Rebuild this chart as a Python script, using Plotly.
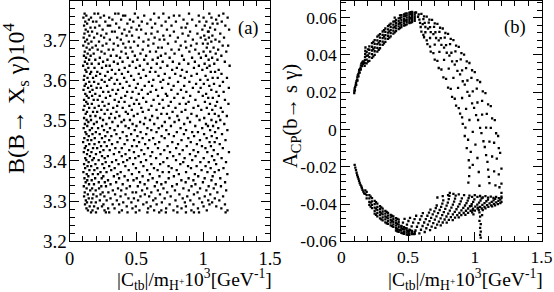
import plotly.graph_objects as go

# ---------------- panel (a): B(B->Xs gamma) vs |Ctb|/mH+ ----------------
# rows of points: (y value, [x values])
a_rows = [
    (3.767, [0.113, 0.187, 0.214, 0.342, 0.366, 0.489, 0.633, 0.702, 0.894, 1.046, 1.151]),
    (3.762, [0.126, 0.258, 0.401, 0.417, 0.559, 0.781, 0.822, 0.967, 1.118]),
    (3.757, [0.104, 0.161, 0.232, 0.297, 0.512, 0.668, 0.744, 1.003, 1.062, 1.183]),
    (3.752, [0.145, 0.321, 0.386, 0.452, 0.607, 0.853, 0.918, 1.097]),
    (3.747, [0.118, 0.176, 0.201, 0.268, 0.477, 0.541, 0.719, 0.796, 0.972, 1.024, 1.139]),
    (3.742, [0.132, 0.349, 0.433, 0.582, 0.641, 0.881, 1.071, 1.107]),
    (3.737, [0.109, 0.224, 0.287, 0.304, 0.521, 0.689, 0.763, 0.947, 1.012, 1.166]),
    (3.732, [0.157, 0.191, 0.372, 0.463, 0.617, 0.838, 0.869, 1.052]),
    (3.727, [0.121, 0.248, 0.411, 0.502, 0.536, 0.729, 0.994, 1.089, 1.194]),
    (3.722, [0.138, 0.169, 0.318, 0.339, 0.448, 0.659, 0.781, 0.902, 1.036, 1.041]),
    (3.717, [0.112, 0.207, 0.276, 0.393, 0.571, 0.613, 0.846, 0.957, 1.128]),
    (3.712, [0.149, 0.236, 0.427, 0.468, 0.702, 0.752, 0.889, 1.008, 1.069]),
    (3.707, [0.106, 0.184, 0.259, 0.357, 0.519, 0.637, 0.811, 0.982, 1.043, 1.156]),
    (3.702, [0.131, 0.302, 0.384, 0.591, 0.674, 0.709, 0.923, 1.017, 1.092]),
    (3.697, [0.117, 0.164, 0.221, 0.444, 0.483, 0.553, 0.794, 0.867, 1.061, 1.121]),
    (3.692, [0.142, 0.276, 0.331, 0.402, 0.628, 0.737, 0.951, 0.998, 1.034]),
    (3.687, [0.103, 0.197, 0.248, 0.363, 0.512, 0.589, 0.832, 0.909, 1.146, 1.187]),
    (3.682, [0.128, 0.171, 0.419, 0.457, 0.664, 0.691, 0.873, 1.027, 1.078]),
    (3.677, [0.151, 0.211, 0.293, 0.327, 0.548, 0.763, 0.819, 0.941, 1.112]),
    (3.672, [0.114, 0.239, 0.388, 0.471, 0.602, 0.647, 0.897, 1.003, 1.053, 1.173]),
    (3.667, [0.136, 0.181, 0.263, 0.422, 0.531, 0.718, 0.786, 0.968, 1.094]),
    (3.662, [0.108, 0.158, 0.309, 0.352, 0.489, 0.573, 0.684, 0.842, 1.021, 1.136]),
    (3.657, [0.124, 0.227, 0.378, 0.436, 0.661, 0.749, 0.917, 0.983, 1.067]),
    (3.652, [0.147, 0.193, 0.284, 0.507, 0.559, 0.622, 0.856, 1.041, 1.107]),
    (3.647, [0.115, 0.251, 0.332, 0.397, 0.473, 0.697, 0.773, 0.938, 1.162]),
    (3.642, [0.133, 0.166, 0.219, 0.361, 0.584, 0.653, 0.821, 0.889, 1.011, 1.083]),
    (3.637, [0.102, 0.274, 0.301, 0.449, 0.526, 0.732, 0.968, 1.048, 1.198]),
    (3.632, [0.141, 0.187, 0.243, 0.413, 0.497, 0.611, 0.681, 0.803, 0.931, 1.029]),
    (3.627, [0.119, 0.317, 0.371, 0.553, 0.768, 0.842, 0.994, 1.116]),
    (3.622, [0.127, 0.162, 0.208, 0.286, 0.438, 0.602, 0.643, 0.877, 1.057, 1.089]),
    (3.617, [0.154, 0.229, 0.343, 0.392, 0.518, 0.713, 0.791, 0.953, 1.137]),
    (3.612, [0.111, 0.199, 0.267, 0.461, 0.572, 0.666, 0.831, 0.912, 1.018]),
    (3.607, [0.135, 0.176, 0.313, 0.409, 0.533, 0.749, 0.862, 1.071, 1.109, 1.178]),
    (3.602, [0.107, 0.241, 0.298, 0.356, 0.482, 0.627, 0.701, 0.978, 1.034]),
    (3.597, [0.148, 0.184, 0.263, 0.427, 0.594, 0.681, 0.812, 0.897, 1.148]),
    (3.592, [0.122, 0.216, 0.337, 0.378, 0.511, 0.739, 0.947, 1.005, 1.081]),
    (3.587, [0.113, 0.162, 0.281, 0.449, 0.563, 0.618, 0.779, 0.858, 1.046, 1.124]),
    (3.582, [0.139, 0.203, 0.234, 0.399, 0.497, 0.693, 0.923, 0.981, 1.192]),
    (3.577, [0.105, 0.172, 0.322, 0.363, 0.541, 0.648, 0.762, 0.834, 1.061]),
    (3.572, [0.152, 0.252, 0.291, 0.431, 0.472, 0.607, 0.874, 0.966, 1.099, 1.153]),
    (3.567, [0.118, 0.193, 0.349, 0.518, 0.586, 0.721, 0.809, 1.022]),
    (3.562, [0.129, 0.169, 0.226, 0.304, 0.417, 0.662, 0.731, 0.903, 0.997, 1.117]),
    (3.557, [0.143, 0.272, 0.387, 0.463, 0.551, 0.784, 0.852, 1.038, 1.072]),
    (3.552, [0.109, 0.181, 0.211, 0.338, 0.502, 0.629, 0.697, 0.942, 1.163]),
    (3.547, [0.125, 0.247, 0.369, 0.412, 0.574, 0.758, 0.891, 1.013, 1.104]),
    (3.542, [0.136, 0.167, 0.293, 0.483, 0.521, 0.672, 0.824, 0.871, 1.051, 1.189]),
    (3.537, [0.112, 0.219, 0.262, 0.357, 0.448, 0.613, 0.741, 0.963, 1.092]),
    (3.532, [0.147, 0.188, 0.327, 0.398, 0.537, 0.702, 0.793, 0.928, 1.027, 1.132]),
    (3.527, [0.104, 0.238, 0.284, 0.466, 0.592, 0.651, 0.867, 0.986, 1.068]),
    (3.522, [0.131, 0.176, 0.207, 0.352, 0.421, 0.548, 0.771, 0.839, 1.146]),
    (3.517, [0.121, 0.263, 0.311, 0.437, 0.509, 0.687, 0.729, 0.912, 1.043, 1.087]),
    (3.512, [0.156, 0.194, 0.373, 0.481, 0.618, 0.807, 0.952, 1.116, 1.177]),
    (3.507, [0.109, 0.229, 0.298, 0.341, 0.567, 0.659, 0.748, 0.883, 1.008]),
    (3.502, [0.128, 0.161, 0.251, 0.408, 0.452, 0.602, 0.819, 0.973, 1.062, 1.128]),
    (3.497, [0.141, 0.204, 0.321, 0.389, 0.528, 0.713, 0.786, 0.902, 1.097]),
    (3.492, [0.115, 0.183, 0.276, 0.472, 0.557, 0.634, 0.858, 1.021, 1.158]),
    (3.487, [0.133, 0.244, 0.362, 0.419, 0.501, 0.692, 0.759, 0.941, 1.036, 1.074]),
    (3.482, [0.106, 0.168, 0.214, 0.303, 0.443, 0.583, 0.667, 0.831, 0.993, 1.113]),
    (3.477, [0.152, 0.258, 0.337, 0.488, 0.612, 0.724, 0.872, 1.052, 1.181]),
    (3.472, [0.119, 0.197, 0.284, 0.398, 0.532, 0.651, 0.803, 0.918, 0.961, 1.089]),
    (3.467, [0.127, 0.172, 0.226, 0.351, 0.461, 0.574, 0.743, 0.856, 1.007, 1.141]),
    (3.462, [0.144, 0.268, 0.313, 0.427, 0.508, 0.689, 0.781, 0.932, 1.064]),
    (3.457, [0.111, 0.189, 0.243, 0.378, 0.547, 0.626, 0.712, 0.889, 1.026, 1.102]),
    (3.452, [0.136, 0.163, 0.297, 0.433, 0.483, 0.597, 0.838, 0.976, 1.167]),
    (3.447, [0.102, 0.221, 0.262, 0.359, 0.521, 0.671, 0.769, 0.907, 1.048, 1.086]),
    (3.442, [0.148, 0.187, 0.318, 0.412, 0.566, 0.641, 0.812, 0.953, 1.124]),
    (3.437, [0.123, 0.236, 0.279, 0.468, 0.503, 0.734, 0.877, 0.991, 1.058]),
    (3.432, [0.114, 0.176, 0.207, 0.343, 0.391, 0.587, 0.662, 0.798, 1.017, 1.147]),
    (3.427, [0.139, 0.254, 0.301, 0.447, 0.538, 0.709, 0.847, 0.928, 1.079]),
    (3.422, [0.107, 0.164, 0.229, 0.372, 0.482, 0.619, 0.752, 0.962, 1.031, 1.193]),
    (3.417, [0.131, 0.198, 0.332, 0.419, 0.559, 0.681, 0.823, 0.901, 1.109]),
    (3.412, [0.153, 0.243, 0.287, 0.391, 0.517, 0.606, 0.776, 0.943, 1.066]),
    (3.407, [0.118, 0.182, 0.263, 0.451, 0.492, 0.648, 0.731, 0.861, 1.004, 1.138]),
    (3.402, [0.126, 0.171, 0.218, 0.349, 0.431, 0.573, 0.797, 0.918, 1.083]),
    (3.397, [0.143, 0.271, 0.318, 0.402, 0.534, 0.702, 0.851, 0.979, 1.042, 1.171]),
    (3.392, [0.109, 0.194, 0.246, 0.367, 0.476, 0.612, 0.678, 0.829, 1.097]),
    (3.387, [0.135, 0.162, 0.297, 0.418, 0.553, 0.741, 0.887, 0.951, 1.018]),
    (3.382, [0.117, 0.208, 0.259, 0.338, 0.497, 0.632, 0.764, 0.909, 1.056, 1.152]),
    (3.377, [0.149, 0.186, 0.312, 0.443, 0.581, 0.659, 0.802, 0.988, 1.117]),
    (3.372, [0.104, 0.232, 0.277, 0.383, 0.521, 0.697, 0.744, 0.872, 1.032, 1.086]),
    (3.367, [0.129, 0.174, 0.213, 0.359, 0.467, 0.601, 0.818, 0.938, 1.181]),
    (3.362, [0.141, 0.253, 0.332, 0.412, 0.547, 0.673, 0.781, 0.963, 1.071]),
    (3.357, [0.112, 0.192, 0.241, 0.371, 0.503, 0.622, 0.742, 0.891, 1.011, 1.128]),
    (3.352, [0.133, 0.166, 0.288, 0.436, 0.479, 0.589, 0.837, 0.927, 1.062]),
    (3.347, [0.121, 0.219, 0.264, 0.349, 0.528, 0.654, 0.719, 0.869, 0.998, 1.164]),
    (3.342, [0.146, 0.183, 0.307, 0.398, 0.562, 0.687, 0.803, 0.942, 1.094]),
    (3.337, [0.107, 0.238, 0.273, 0.452, 0.511, 0.638, 0.768, 0.913, 1.041, 1.133]),
    (3.332, [0.128, 0.169, 0.221, 0.363, 0.427, 0.581, 0.703, 0.852, 0.977, 1.079]),
    (3.327, [0.155, 0.196, 0.324, 0.387, 0.543, 0.661, 0.789, 0.893, 1.024, 1.172]),
    (3.322, [0.114, 0.248, 0.291, 0.472, 0.498, 0.612, 0.731, 0.958, 1.106]),
    (3.317, [0.137, 0.178, 0.232, 0.341, 0.419, 0.564, 0.677, 0.822, 0.931, 1.053]),
    (3.312, [0.109, 0.203, 0.261, 0.382, 0.531, 0.596, 0.757, 0.881, 1.012, 1.149]),
    (3.307, [0.144, 0.171, 0.307, 0.441, 0.482, 0.643, 0.712, 0.847, 0.972, 1.087]),
    (3.302, [0.122, 0.227, 0.278, 0.354, 0.513, 0.626, 0.793, 0.904, 1.038, 1.121]),
    (3.297, [0.131, 0.163, 0.197, 0.402, 0.463, 0.577, 0.691, 0.863, 0.992, 1.067]),
    (3.292, [0.116, 0.254, 0.323, 0.371, 0.552, 0.652, 0.749, 0.927, 1.047, 1.163]),
    (3.287, [0.151, 0.184, 0.243, 0.428, 0.496, 0.607, 0.807, 0.871, 1.003, 1.098]),
    (3.282, [0.127, 0.212, 0.289, 0.337, 0.471, 0.588, 0.723, 0.838, 0.961, 1.136]),
    (3.277, [0.138, 0.172, 0.262, 0.392, 0.523, 0.633, 0.687, 0.778, 0.912, 1.027, 1.182]),
    (3.272, [0.161, 0.198, 0.272, 0.297, 0.372, 0.434, 0.496, 0.583, 0.671, 0.721, 0.807, 0.871, 0.931, 0.969, 1.168]),
]

# ---------------- panel (b): A_CP(b->s gamma) vs |Ctb|/mH+ ----------------
b_up_start = [
    (0.097, 0.0195), (0.098, 0.0207), (0.100, 0.0220), (0.104, 0.0229), (0.108, 0.0238),
    (0.110, 0.0250), (0.114, 0.0260), (0.118, 0.0268), (0.120, 0.0280), (0.123, 0.0291),
    (0.128, 0.0297), (0.132, 0.0306), (0.134, 0.0318), (0.139, 0.0324), (0.144, 0.0331),
    (0.147, 0.0343), (0.150, 0.0353), (0.156, 0.0359), (0.162, 0.0366), (0.102, 0.0210),
    (0.112, 0.0240), (0.121, 0.0263), (0.129, 0.0285), (0.138, 0.0305), (0.146, 0.0322),
    (0.155, 0.0340), (0.163, 0.0352), (0.168, 0.0362),
    (0.175, 0.0342), (0.176, 0.0358), (0.177, 0.0374), (0.178, 0.0390), (0.179, 0.0406),
    (0.180, 0.0422), (0.181, 0.0440),
]

b_up_band = [
    (0.19, [0.0355, 0.0375, 0.0395, 0.0415]),
    (0.21, [0.0368, 0.0388, 0.0408, 0.0428, 0.0446]),
    (0.23, [0.0384, 0.0404, 0.0424, 0.0444, 0.0464]),
    (0.25, [0.0400, 0.0420, 0.0440, 0.0460, 0.0480]),
    (0.27, [0.0418, 0.0438, 0.0458, 0.0478, 0.0498]),
    (0.29, [0.0436, 0.0455, 0.0474, 0.0493, 0.0512]),
    (0.31, [0.0454, 0.0472, 0.0490, 0.0508, 0.0526]),
    (0.33, [0.0470, 0.0488, 0.0506, 0.0524, 0.0542]),
    (0.35, [0.0486, 0.0503, 0.0520, 0.0537, 0.0555]),
    (0.37, [0.0500, 0.0517, 0.0534, 0.0551, 0.0568]),
    (0.39, [0.0515, 0.0531, 0.0547, 0.0563, 0.0579]),
    (0.41, [0.0528, 0.0543, 0.0558, 0.0573, 0.0588]),
    (0.43, [0.0539, 0.0553, 0.0567, 0.0581, 0.0596]),
    (0.45, [0.0549, 0.0562, 0.0575, 0.0588, 0.0602, 0.0614]),
    (0.47, [0.0557, 0.0569, 0.0581, 0.0594, 0.0607, 0.0618]),
    (0.49, [0.0564, 0.0576, 0.0588, 0.0600, 0.0612, 0.0623]),
    (0.51, [0.0571, 0.0582, 0.0594, 0.0605, 0.0617, 0.0627]),
    (0.53, [0.0577, 0.0588, 0.0599, 0.0610, 0.0621, 0.0631]),
    (0.55, [0.0583, 0.0594, 0.0605, 0.0616, 0.0627]),
    (0.20, [0.0365, 0.0398, 0.0430]),
    (0.24, [0.0392, 0.0432, 0.0470]),
    (0.28, [0.0428, 0.0466, 0.0505]),
    (0.32, [0.0462, 0.0498, 0.0533]),
    (0.36, [0.0493, 0.0527, 0.0561]),
    (0.40, [0.0521, 0.0550, 0.0580, 0.0600]),
    (0.44, [0.0544, 0.0571, 0.0598, 0.0612]),
    (0.48, [0.0560, 0.0585, 0.0610, 0.0622]),
    (0.52, [0.0574, 0.0597, 0.0620, 0.0630]),
]

b_up_fan = [
    [(0.56, 0.0628), (0.60, 0.0620), (0.64, 0.0606), (0.68, 0.0588), (0.72, 0.0567), (0.76, 0.0542),
     (0.80, 0.0513), (0.84, 0.0480), (0.88, 0.0443), (0.92, 0.0402), (0.96, 0.0357), (1.00, 0.0308),
     (1.04, 0.0255), (1.08, 0.0195), (1.12, 0.0125), (1.15, 0.0050), (1.175, -0.0035), (1.19, -0.0125),
     (1.20, -0.0210), (1.20, -0.0290), (1.20, -0.0340)],
    [(0.58, 0.0618), (0.62, 0.0607), (0.66, 0.0590), (0.70, 0.0570), (0.74, 0.0546), (0.78, 0.0518),
     (0.82, 0.0486), (0.86, 0.0450), (0.90, 0.0410), (0.94, 0.0366), (0.98, 0.0318), (1.02, 0.0265),
     (1.06, 0.0205), (1.10, 0.0135), (1.13, 0.0060), (1.16, -0.0020), (1.18, -0.0100)],
    [(0.575, 0.0605), (0.615, 0.0592), (0.655, 0.0574), (0.695, 0.0551), (0.735, 0.0524), (0.775, 0.0493),
     (0.815, 0.0458), (0.855, 0.0419), (0.895, 0.0376), (0.935, 0.0329), (0.975, 0.0277), (1.015, 0.0219),
     (1.055, 0.0154), (1.09, 0.0084), (1.12, 0.0009), (1.145, -0.0071), (1.165, -0.0156), (1.18, -0.0241),
     (1.185, -0.0310)],
    [(0.585, 0.0590), (0.625, 0.0572), (0.665, 0.0549), (0.705, 0.0522), (0.745, 0.0490), (0.785, 0.0453),
     (0.825, 0.0412), (0.865, 0.0367), (0.905, 0.0317), (0.945, 0.0263), (0.985, 0.0205), (1.02, 0.0145),
     (1.055, 0.0080), (1.085, 0.0010), (1.11, -0.0065), (1.13, -0.0145), (1.145, -0.0225), (1.155, -0.0300)],
    [(0.61, 0.0566), (0.65, 0.0541), (0.69, 0.0512), (0.73, 0.0478), (0.77, 0.0439), (0.81, 0.0396),
     (0.85, 0.0348), (0.89, 0.0296), (0.925, 0.0241), (0.96, 0.0181), (0.995, 0.0116), (1.025, 0.0051),
     (1.05, -0.0019), (1.075, -0.0094), (1.095, -0.0174), (1.105, -0.0254)],
    [(0.59, 0.0572), (0.63, 0.0550), (0.67, 0.0523), (0.71, 0.0491), (0.75, 0.0454), (0.79, 0.0412),
     (0.83, 0.0366), (0.87, 0.0315), (0.91, 0.0259), (0.945, 0.0202), (0.98, 0.0140), (1.01, 0.0077),
     (1.04, 0.0009), (1.065, -0.0063), (1.085, -0.0138), (1.10, -0.0215), (1.11, -0.0288)],
    [(0.595, 0.0550), (0.63, 0.0522), (0.665, 0.0491), (0.70, 0.0456), (0.735, 0.0417), (0.77, 0.0374),
     (0.805, 0.0327), (0.84, 0.0277), (0.875, 0.0223), (0.905, 0.0169), (0.935, 0.0111), (0.96, 0.0051),
     (0.985, -0.0013), (1.005, -0.0081), (1.02, -0.0153), (1.03, -0.0228), (1.035, -0.0302)],
    [(0.615, 0.0508), (0.64, 0.0478), (0.665, 0.0445), (0.69, 0.0410), (0.72, 0.0368), (0.75, 0.0322),
     (0.785, 0.0272), (0.82, 0.0218), (0.85, 0.0165), (0.88, 0.0115), (0.905, 0.0065), (0.93, 0.0010),
     (0.95, -0.0055), (0.97, -0.0120), (0.985, -0.0190)],
    [(0.60, 0.0525), (0.62, 0.0495), (0.645, 0.0458), (0.67, 0.0418), (0.70, 0.0375), (0.73, 0.0330),
     (0.765, 0.0280), (0.80, 0.0225), (0.83, 0.0175), (0.86, 0.0128), (0.89, 0.0085), (0.91, 0.0030),
     (0.925, -0.0035), (0.94, -0.0100), (0.955, -0.0165), (0.962, -0.0205), (0.958, -0.0250), (0.952, -0.0285)],
]

b_lo_start = [
    (0.100, -0.0190), (0.105, -0.0205), (0.110, -0.0218), (0.115, -0.0232), (0.119, -0.0245),
    (0.124, -0.0255), (0.129, -0.0265), (0.133, -0.0276), (0.138, -0.0287), (0.144, -0.0297),
    (0.150, -0.0305), (0.154, -0.0314), (0.159, -0.0324), (0.165, -0.0333), (0.171, -0.0343),
]

b_lo_band = [
    (0.19, [-0.0335, -0.0352, -0.0370]),
    (0.21, [-0.0352, -0.0370, -0.0388, -0.0404]),
    (0.23, [-0.0368, -0.0386, -0.0404, -0.0422]),
    (0.25, [-0.0383, -0.0401, -0.0419, -0.0437, -0.0452]),
    (0.27, [-0.0398, -0.0415, -0.0432, -0.0449, -0.0466]),
    (0.29, [-0.0412, -0.0428, -0.0444, -0.0460, -0.0477]),
    (0.31, [-0.0425, -0.0440, -0.0456, -0.0472, -0.0488]),
    (0.33, [-0.0437, -0.0452, -0.0467, -0.0482, -0.0498]),
    (0.35, [-0.0448, -0.0462, -0.0477, -0.0492, -0.0507]),
    (0.37, [-0.0458, -0.0472, -0.0486, -0.0500, -0.0515]),
    (0.39, [-0.0467, -0.0481, -0.0495, -0.0509, -0.0523]),
    (0.41, [-0.0476, -0.0489, -0.0502, -0.0516, -0.0530, -0.0542]),
    (0.43, [-0.0484, -0.0497, -0.0510, -0.0523, -0.0537, -0.0549]),
    (0.45, [-0.0517, -0.0530, -0.0543, -0.0555]),
    (0.47, [-0.0524, -0.0536, -0.0548, -0.0560]),
    (0.49, [-0.0531, -0.0542, -0.0553, -0.0564]),
    (0.51, [-0.0537, -0.0547, -0.0557, -0.0566]),
    (0.53, [-0.0544, -0.0553, -0.0561]),
    (0.55, [-0.0551, -0.0560]),
    (0.18, [-0.0327, -0.0345]),
    (0.22, [-0.0360, -0.0392, -0.0414]),
    (0.26, [-0.0390, -0.0425, -0.0458]),
    (0.30, [-0.0418, -0.0450, -0.0482]),
    (0.34, [-0.0442, -0.0472, -0.0503]),
    (0.38, [-0.0463, -0.0491, -0.0519]),
    (0.42, [-0.0480, -0.0506, -0.0533, -0.0546]),
    (0.46, [-0.0533, -0.0558]),
    (0.50, [-0.0545, -0.0565]),
]

b_lo_fan = [
    [(0.44, -0.0540), (0.451, -0.0520), (0.462, -0.0500), (0.474, -0.0480)],
    [(0.47, -0.0550), (0.481, -0.0530), (0.492, -0.0510), (0.503, -0.0491), (0.515, -0.0474)],
    [(0.505, -0.0560), (0.516, -0.0540), (0.527, -0.0520), (0.538, -0.0500), (0.549, -0.0481),
     (0.561, -0.0463)],
    [(0.545, -0.0562), (0.556, -0.0542), (0.567, -0.0522), (0.578, -0.0502), (0.590, -0.0483),
     (0.601, -0.0465), (0.611, -0.0449)],
    [(0.585, -0.0558), (0.597, -0.0538), (0.609, -0.0518), (0.621, -0.0499), (0.633, -0.0481),
     (0.645, -0.0463), (0.657, -0.0446), (0.668, -0.0430)],
    [(0.625, -0.0550), (0.637, -0.0530), (0.649, -0.0511), (0.661, -0.0492), (0.673, -0.0474),
     (0.685, -0.0456), (0.697, -0.0439), (0.708, -0.0422), (0.715, -0.0408)],
    [(0.665, -0.0540), (0.677, -0.0521), (0.689, -0.0502), (0.701, -0.0484), (0.713, -0.0466),
     (0.725, -0.0449), (0.737, -0.0432), (0.748, -0.0415), (0.757, -0.0398), (0.764, -0.0380)],
    [(0.705, -0.0528), (0.718, -0.0511), (0.731, -0.0494), (0.744, -0.0477), (0.756, -0.0460),
     (0.768, -0.0443), (0.779, -0.0426), (0.789, -0.0409), (0.798, -0.0392), (0.805, -0.0374),
     (0.810, -0.0356), (0.813, -0.0340)],
    [(0.745, -0.0515), (0.760, -0.0499), (0.774, -0.0483), (0.788, -0.0467), (0.801, -0.0451),
     (0.813, -0.0435), (0.825, -0.0419), (0.836, -0.0403), (0.845, -0.0387), (0.852, -0.0371),
     (0.857, -0.0355)],
    [(0.79, -0.0500), (0.806, -0.0485), (0.821, -0.0470), (0.836, -0.0456), (0.850, -0.0442),
     (0.863, -0.0428), (0.875, -0.0414), (0.886, -0.0400), (0.895, -0.0386), (0.903, -0.0370)],
    [(0.835, -0.0486), (0.852, -0.0473), (0.869, -0.0460), (0.885, -0.0447), (0.900, -0.0434),
     (0.914, -0.0421), (0.927, -0.0408), (0.938, -0.0395), (0.947, -0.0382), (0.954, -0.0368)],
    [(0.88, -0.0472), (0.899, -0.0460), (0.917, -0.0448), (0.934, -0.0436), (0.950, -0.0424),
     (0.964, -0.0412), (0.977, -0.0400), (0.988, -0.0388), (0.997, -0.0375)],
    [(0.93, -0.0458), (0.950, -0.0447), (0.969, -0.0436), (0.987, -0.0425), (1.004, -0.0414),
     (1.019, -0.0403), (1.032, -0.0392), (1.043, -0.0381), (1.051, -0.0370)],
    [(0.98, -0.0445), (1.001, -0.0435), (1.021, -0.0425), (1.040, -0.0415), (1.057, -0.0405),
     (1.073, -0.0395), (1.087, -0.0385), (1.099, -0.0376)],
    [(1.03, -0.0433), (1.052, -0.0424), (1.073, -0.0415), (1.093, -0.0406), (1.111, -0.0397),
     (1.127, -0.0388), (1.141, -0.0380), (1.153, -0.0372)],
    [(1.08, -0.0423), (1.102, -0.0415), (1.123, -0.0407), (1.143, -0.0399), (1.161, -0.0391),
     (1.177, -0.0383), (1.191, -0.0376), (1.20, -0.0368)],
    [(1.13, -0.0413), (1.152, -0.0407), (1.173, -0.0401), (1.192, -0.0395), (1.20, -0.0388)],
]

b_lo_ridge = [
    (0.72, -0.0365), (0.76, -0.0358), (0.80, -0.0352), (0.84, -0.0345), (0.88, -0.0348), (0.92, -0.0352),
    (0.96, -0.0355), (0.98, -0.0362), (1.00, -0.0352), (1.02, -0.0362), (1.04, -0.0357), (1.06, -0.0365),
    (1.08, -0.0358), (1.10, -0.0366), (1.12, -0.0360), (1.14, -0.0367), (1.16, -0.0362), (1.18, -0.0368),
    (1.20, -0.0360),
]

b_lo_drop = [
    (1.025, -0.0420), (1.035, -0.0445), (1.04, -0.0468), (1.035, -0.0490), (1.045, -0.0508),
    (1.04, -0.0528), (1.045, -0.0548), (1.04, -0.0566), (1.045, -0.0580), (1.055, -0.0460),
    (0.975, -0.0410), (0.985, -0.0432), (0.99, -0.0455), (1.06, -0.0432),
]

# axis tick labels
a_yticks = [3.2, 3.3, 3.4, 3.5, 3.6, 3.7]
b_yticks = [-0.06, -0.04, -0.02, 0.0, 0.02, 0.04, 0.06]
b_yticktext = ["-0.06", "-0.04", "-0.02", "0", "0.02", "0.04", "0.06"]
x_ticks = [0, 0.5, 1, 1.5]
x_ticktext = ["0", "0.5", "1", "1.5"]

# ---------------- assemble ----------------
xa, ya = [], []
for yv, xs in a_rows:
    for xv in xs:
        xa.append(xv)
        ya.append(yv)

pts_b = list(b_up_start) + list(b_lo_start) + list(b_lo_ridge) + list(b_lo_drop)
for xv, ys in b_up_band + b_lo_band:
    pts_b += [(xv, yv) for yv in ys]
for ray in b_up_fan + b_lo_fan:
    pts_b += ray
xb = [p[0] for p in pts_b]
yb = [p[1] for p in pts_b]

W, H = 554, 292
FONT = "Liberation Serif"
mk = dict(symbol="square", size=2.3, color="black", line=dict(width=0))

fig = go.Figure()
fig.add_trace(go.Scatter(x=xa, y=ya, mode="markers", marker=mk, xaxis="x", yaxis="y", showlegend=False))
fig.add_trace(go.Scatter(x=xb, y=yb, mode="markers", marker=mk, xaxis="x2", yaxis="y2", showlegend=False))

def ax(size, **kw):
    d = dict(showline=True, linecolor="black", linewidth=1, mirror="allticks",
             ticks="inside", ticklen=9, tickwidth=1, tickcolor="black",
             showgrid=False, zeroline=False, fixedrange=True, automargin=False,
             tickfont=dict(family=FONT, size=size, color="black"))
    d.update(kw)
    return d

minor_x = dict(ticks="inside", ticklen=5, tickcolor="black", tickwidth=1, dtick=0.1, tick0=0)
ydom = [1 - 241.3 / H, 1 - 1.3 / H]
fig.update_layout(
    width=W, height=H, margin=dict(l=0, r=0, t=0, b=0),
    paper_bgcolor="white", plot_bgcolor="white", showlegend=False,
    xaxis=ax(18.5, domain=[69.5 / W, 270 / W], range=[0, 1.5], anchor="y",
             tickmode="array", tickvals=x_ticks, ticktext=x_ticktext, minor=minor_x),
    yaxis=ax(19, domain=ydom, range=[3.2, 3.7975], anchor="x", ticklabelstandoff=-2,
             tickmode="array", tickvals=a_yticks, ticktext=[f"{v:.1f}" for v in a_yticks],
             minor=dict(ticks="inside", ticklen=5, tickcolor="black", tickwidth=1, dtick=0.02, tick0=3.2)),
    xaxis2=ax(17.5, domain=[341.3 / W, 541.5 / W], range=[0, 1.5], anchor="y2",
              tickmode="array", tickvals=x_ticks, ticktext=x_ticktext, minor=minor_x),
    yaxis2=ax(17.5, domain=ydom, range=[-0.06, 0.0688], anchor="x2",
              tickmode="array", tickvals=b_yticks, ticktext=b_yticktext,
              minor=dict(ticks="inside", ticklen=5, tickcolor="black", tickwidth=1, dtick=0.004, tick0=-0.06)),
)

def px(xp):
    return xp / W

def py(yp):
    return 1 - yp / H

xtitle = "|C<sub>tb</sub>|/m<sub>H<sup>+</sup></sub>10<sup>3</sup>[GeV<sup>-1</sup>]"
ann = [
    dict(text=xtitle, x=px(274), y=py(279.5), xanchor="right", yanchor="middle", font=dict(size=19.5)),
    dict(text=xtitle, x=px(545), y=py(279.5), xanchor="right", yanchor="middle", font=dict(size=19.5)),
    dict(text="B(B\u2192 X<sub>s</sub> \u03b3)10<sup>4</sup>", x=px(16), y=py(99), textangle=-90,
         xanchor="center", yanchor="middle", font=dict(size=24)),
    dict(text="A<sub>CP</sub>(b\u2192 s \u03b3)", x=px(291), y=py(116), textangle=-90,
         xanchor="center", yanchor="middle", font=dict(size=20.5)),
    dict(text="(a)", x=px(248), y=py(29), xanchor="center", yanchor="middle", font=dict(size=18.5)),
    dict(text="(b)", x=px(515), y=py(28), xanchor="center", yanchor="middle", font=dict(size=18.5)),
]
for a in ann:
    a.update(xref="paper", yref="paper", showarrow=False)
    a["font"].update(family=FONT, color="black")
fig.update_layout(annotations=ann)

fig.write_html("out.html", config={"displayModeBar": False},
               post_script="document.body.style.margin='0';document.body.style.overflow='hidden';")
